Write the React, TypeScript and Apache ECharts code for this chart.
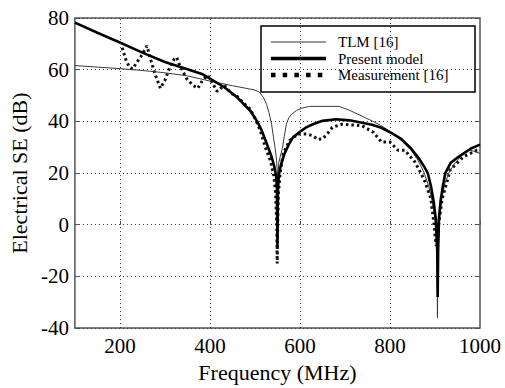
import React, { useEffect, useRef } from "react";
import * as echarts from "echarts";

const presentFreq = [100,150,200,250,300,350,384,400,432,461,490,505,515,526,537,543,547,548.8,549.6,550,550.4,551.2,553,555.6,560,566,575,585,600,614,630,650,680,710,738,760,781,800,825,847,865,876,884,891,897,902,905,906,907,909,913,918,923,935,950,963,980,1000];
const presentSE = [78.2,74.3,70.5,66.6,63.0,60.2,58.2,56.5,53.2,49.2,44.0,40,36.5,31.5,26.3,22.5,19,14,0,-8.5,0,14,19,21.5,24.5,27.6,31,33.9,36,37.7,39,40.2,40.8,40.4,39.5,38.7,37.5,35.8,33.2,29.5,25.5,22.5,20,15,9,2,-10,-28,-10,3,10,15.5,20,24,26,27.5,29.5,31];

const tlmFreq = [100,150,200,250,300,350,400,450,498,510,519,526,531,537,541,545,548,550.5,553,557,561,565,570,575,581,593,606,621,687,710,738,760,781,805,825,847,862,875,886,894,900,904,905.5,907,910,915,922,932,945,960,975,985,1000];
const tlmSE = [61.6,61.0,60.4,59.7,58.8,57.6,55.6,53.8,52.2,51.3,49.2,46.5,43.5,38.9,34,29.5,25,18,24,27,29.5,34,39,41.3,42.7,44.3,45.2,45.8,45.8,44.3,42,40.2,38.3,35.5,32.6,28.8,25,20.5,15,9,2,-10,-36,-10,2,10,16,20.5,24,27,29,28.5,27.6];

const measFreq = [205,213,221,228,238,250,260,268,279,290,300,311,320,326,333,348,362,373,384,395,405,416,432,446,461,475,490,502,512,523,534,542,546,548.5,549.5,550.5,552,556,563,577,596,614,628,640,650,660,672,694,716,738,763,781,800,818,833,855,876,891,898,902,905,908,916,934,963,993,1000];
const measSE = [68.5,64,61,60.3,62.9,66,69.2,64.1,57.8,52.8,55.9,61,64,64.8,61.6,56.6,54,52.8,56,57.8,55,51.6,54,51,49.6,47,44.6,40.5,36.4,30,25,19,12,0,-15,0,12,20,27.6,32.6,35.1,35.1,34.5,33,33.2,35,37.7,38.9,38.6,38.3,35.8,32,32,28.8,28.8,24.4,17.5,10,0,-7.7,-8,0,10,21.3,26.3,28.8,29];

const xTickLabels = [200, 400, 600, 800, 1000];
const xGridLines = [200, 400, 600, 800];
const legendNames = ["TLM [16]", "Present model", "Measurement [16]"];

const FONT = "Liberation Serif";

function pairs(xs: number[], ys: number[]) {
  return xs.map((x, i) => [x, ys[i]]);
}

export default function App() {
  const ref = useRef<HTMLDivElement>(null);
  useEffect(() => {
    if (!ref.current) return;
    const chart = echarts.init(ref.current, null, { renderer: "svg" });
    const gridStyle = { type: [1, 3] as any, color: "#333", width: 1 };
    const lx = 271, lx2 = 326, tx = 338;
    const rows = [42, 58.5, 75];
    chart.setOption({
      animation: false,
      backgroundColor: "#fff",
      grid: {
        left: 68, right: 25, top: 18, bottom: 53,
        show: true, borderColor: "#555", borderWidth: 1.5, backgroundColor: "transparent",
      },
      xAxis: {
        type: "value", min: 100, max: 1000, interval: 100,
        name: "Frequency (MHz)", nameLocation: "middle", nameGap: 30,
        nameTextStyle: { fontFamily: FONT, fontSize: 22, color: "#000" },
        axisLine: { show: false },
        axisTick: { show: true, inside: true, length: 4, customValues: xTickLabels, lineStyle: { color: "#555" } },
        axisLabel: {
          fontFamily: FONT, fontSize: 21, color: "#000", margin: 7,
          customValues: xTickLabels,
          formatter: (v: number) => (xTickLabels.indexOf(v) >= 0 ? String(v) : ""),
        },
        splitLine: { show: false },
      },
      yAxis: [
        {
          type: "value", min: -40, max: 80, interval: 20,
          name: "Electrical SE (dB)", nameLocation: "middle", nameGap: 34,
          nameTextStyle: { fontFamily: FONT, fontSize: 22, color: "#000" },
          axisLine: { show: false },
          axisTick: { show: true, inside: true, length: 4, lineStyle: { color: "#555" } },
          axisLabel: { fontFamily: FONT, fontSize: 21, color: "#000", margin: 6 },
          splitLine: { show: true, lineStyle: gridStyle },
        },
        {
          type: "value", min: -40, max: 80, interval: 20, position: "right",
          axisLine: { show: false },
          axisTick: { show: true, inside: true, length: 4, lineStyle: { color: "#555" } },
          axisLabel: { show: false },
          splitLine: { show: false },
        },
      ],
      series: [
        {
          type: "line", name: "grid", data: [], z: 1, silent: true,
          markLine: {
            silent: true, symbol: "none", label: { show: false },
            lineStyle: gridStyle,
            data: xGridLines.map((v) => ({ xAxis: v })),
          },
        },
        {
          type: "line", name: legendNames[2], data: pairs(measFreq, measSE),
          showSymbol: false, symbol: "none",
          lineStyle: { color: "#111", width: 3, type: [2.5, 3], cap: "butt" },
        },
        {
          type: "line", name: legendNames[0], data: pairs(tlmFreq, tlmSE),
          showSymbol: false, symbol: "none",
          lineStyle: { color: "#3a3a3a", width: 1 },
        },
        {
          type: "line", name: legendNames[1], data: pairs(presentFreq, presentSE),
          showSymbol: false, symbol: "none",
          lineStyle: { color: "#000", width: 2.6 },
        },
      ],
      graphic: [
        {
          type: "group", z: 100,
          children: [
            { type: "rect", shape: { x: 261, y: 26, width: 214, height: 66 }, style: { fill: "#fff", stroke: "#000", lineWidth: 1.5 } },
            { type: "line", shape: { x1: lx, y1: rows[0], x2: lx2, y2: rows[0] }, style: { stroke: "#333", lineWidth: 1 } },
            { type: "line", shape: { x1: lx, y1: rows[1], x2: lx2, y2: rows[1] }, style: { stroke: "#000", lineWidth: 3.5 } },
            { type: "line", shape: { x1: lx, y1: rows[2], x2: lx2, y2: rows[2] }, style: { stroke: "#000", lineWidth: 4.5, lineDash: [4.5, 7.2] } },
            { type: "text", x: tx, y: rows[0], style: { text: legendNames[0], font: `15px '${FONT}'`, fill: "#000", verticalAlign: "middle" } },
            { type: "text", x: tx, y: rows[1], style: { text: legendNames[1], font: `15px '${FONT}'`, fill: "#000", verticalAlign: "middle" } },
            { type: "text", x: tx, y: rows[2], style: { text: legendNames[2], font: `15px '${FONT}'`, fill: "#000", verticalAlign: "middle" } },
          ],
        },
      ],
    });
    return () => chart.dispose();
  }, []);
  return <div ref={ref} style={{ width: 505, height: 388, position: "fixed", left: 0, top: 0 }} />;
}
